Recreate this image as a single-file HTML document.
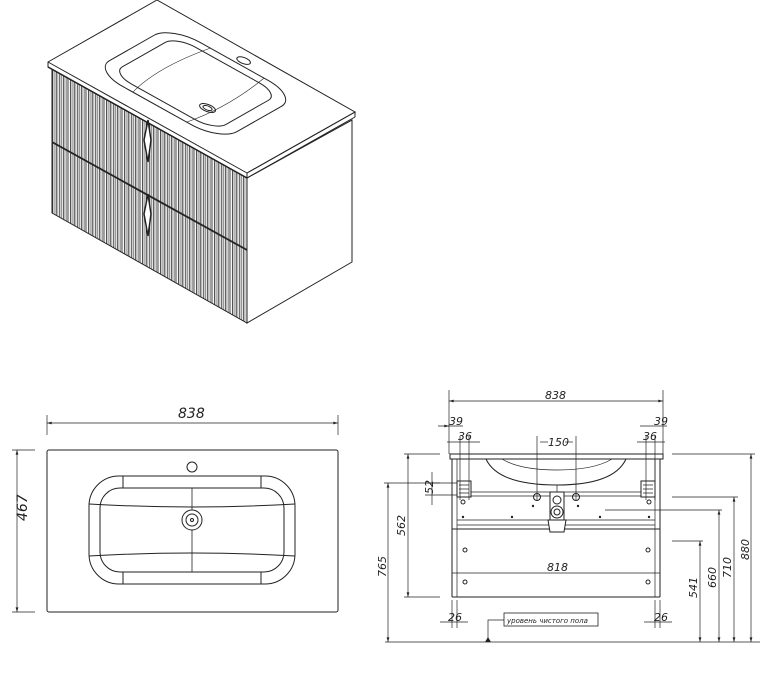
<!DOCTYPE html>
<html><head><meta charset="utf-8"><style>
html,body{margin:0;padding:0;background:#fff}
svg{display:block}
text{font-family:"DejaVu Sans","Liberation Sans",sans-serif;font-style:italic;fill:#222}
</style></head><body>
<svg width="760" height="686" viewBox="0 0 760 686" xmlns="http://www.w3.org/2000/svg">
<defs>
<pattern id="fl" x="52" y="0" width="3.6" height="10" patternUnits="userSpaceOnUse">
<line x1="0.6" y1="0" x2="0.6" y2="10" stroke="#222" stroke-width="0.9"/>
<line x1="2.2" y1="0" x2="2.2" y2="10" stroke="#555" stroke-width="0.6"/>
</pattern>
<marker id="ar" viewBox="0 0 10 6" refX="10" refY="3" markerWidth="8" markerHeight="4" orient="auto-start-reverse"><path d="M0,0L10,3L0,6z" fill="#222"/></marker>
</defs>
<g stroke="#222" fill="none" stroke-width="1">
<!-- ISO VIEW -->
<polygon points="52,68 247,178 247,323 52,213" fill="url(#fl)" stroke="#222"/>
<polygon points="247,178 352,120 352,262 247,323" fill="#fff"/>
<polygon points="48,62 157,0 355,112 247,173 247,178 48,67" fill="#fff"/>
<line x1="48" y1="62" x2="247" y2="173"/>
<line x1="247" y1="173" x2="355" y2="112"/>
<line x1="355" y1="112" x2="355" y2="117"/><line x1="355" y1="117" x2="247" y2="178"/>
<line x1="48" y1="67" x2="247" y2="178" stroke-width="1.5"/>
<line x1="52" y1="142" x2="247" y2="250" stroke-width="1.8"/>
<path d="M148,120 L144,140 L148,162 L151,140Z M148,194 L144,214 L148,236 L151,214Z" fill="#fff" stroke-width="1.5"/>
<g transform="matrix(109,-62,199,111,48,62)">
<rect x="0.14" y="0.15" width="0.71" height="0.64" rx="0.15" vector-effect="non-scaling-stroke"/>
<rect x="0.2" y="0.21" width="0.59" height="0.52" rx="0.1" vector-effect="non-scaling-stroke"/>
<path d="M0.14,0.35 Q0.45,0.3 0.85,0.35 M0.14,0.62 Q0.45,0.66 0.85,0.62" vector-effect="non-scaling-stroke" stroke-width="0.6"/>
<circle cx="0.35" cy="0.61" r="0.035" vector-effect="non-scaling-stroke"/>
<circle cx="0.35" cy="0.61" r="0.02" vector-effect="non-scaling-stroke"/>
<circle cx="0.9" cy="0.49" r="0.03" vector-effect="non-scaling-stroke"/>
</g>
<!-- TOP VIEW -->
<rect x="47" y="450" width="291" height="162" rx="2"/>
<rect x="89" y="476" width="206" height="108" rx="30"/>
<rect x="100" y="488" width="184" height="84" rx="20"/>
<line x1="123" y1="476" x2="123" y2="488"/><line x1="261" y1="476" x2="261" y2="488"/>
<line x1="123" y1="572" x2="123" y2="584"/><line x1="261" y1="572" x2="261" y2="584"/>
<path d="M89,504 Q192,510 295,504 M89,556 Q192,550 295,556"/>
<line x1="192" y1="488" x2="192" y2="572" stroke-width="0.8"/>
<circle cx="192" cy="520" r="10" fill="#fff"/><circle cx="192" cy="520" r="6"/><circle cx="192" cy="520" r="1.5"/>
<circle cx="192" cy="467" r="5"/>
<line x1="47" y1="415" x2="47" y2="435" stroke-width="0.7"/><line x1="338" y1="415" x2="338" y2="435" stroke-width="0.7"/>
<line x1="47" y1="423" x2="338" y2="423" stroke-width="0.7" marker-start="url(#ar)" marker-end="url(#ar)"/>
<line x1="12" y1="450" x2="35" y2="450" stroke-width="0.7"/><line x1="12" y1="612" x2="35" y2="612" stroke-width="0.7"/>
<line x1="17" y1="450" x2="17" y2="612" stroke-width="0.7" marker-start="url(#ar)" marker-end="url(#ar)"/>
<!-- FRONT VIEW -->
<rect x="450" y="454" width="213" height="5" fill="#fff"/>
<line x1="452" y1="459" x2="452" y2="597"/><line x1="660" y1="459" x2="660" y2="597"/>
<line x1="457" y1="459" x2="457" y2="597" stroke-width="0.7"/><line x1="655" y1="459" x2="655" y2="597" stroke-width="0.7"/>
<line x1="452" y1="597" x2="660" y2="597"/>
<line x1="452" y1="529" x2="660" y2="529"/><line x1="457" y1="525" x2="655" y2="525" stroke-width="0.7"/>
<line x1="452" y1="573" x2="660" y2="573" stroke-width="0.8"/>
<line x1="457" y1="492" x2="655" y2="492" stroke-width="0.8"/><line x1="457" y1="496" x2="655" y2="496" stroke-width="0.8"/>
<line x1="457" y1="520" x2="655" y2="520" stroke-width="0.8"/>
<path d="M486,459 Q498,485 557,485 Q614,485 626,459" />
<path d="M502,459 Q520,470 557,470 Q594,470 612,459" stroke-width="0.7"/>
<line x1="557" y1="485" x2="557" y2="492" stroke-width="0.7"/>
<rect x="550" y="492" width="14" height="28" fill="#fff"/>
<circle cx="557" cy="500" r="4"/><circle cx="557" cy="512" r="6"/><circle cx="557" cy="512" r="3"/>
<path d="M548,520 L566,520 L564,532 L550,532Z" fill="#fff"/>
<circle cx="537" cy="497" r="3.5"/><circle cx="576" cy="497" r="3.5"/>
<rect x="457" y="481" width="14" height="16" fill="#fff"/><rect x="641" y="481" width="14" height="16" fill="#fff"/>
<path d="M459,485h10M459,489h10M459,493h10M643,485h10M643,489h10M643,493h10" stroke-width="0.7"/>
<circle cx="463" cy="502" r="2"/><circle cx="649" cy="502" r="2"/>
<circle cx="465" cy="550" r="2"/><circle cx="648" cy="550" r="2"/>
<circle cx="465" cy="582" r="2"/><circle cx="648" cy="582" r="2"/>
<g fill="#222" stroke="none"><circle cx="512" cy="517" r="1.2"/><circle cx="600" cy="517" r="1.2"/><circle cx="533" cy="506" r="1.2"/><circle cx="578" cy="506" r="1.2"/><circle cx="463" cy="517" r="1.2"/><circle cx="649" cy="517" r="1.2"/></g>
<g stroke-width="0.7">
<line x1="449" y1="390" x2="449" y2="454"/><line x1="663" y1="390" x2="663" y2="454"/>
<line x1="449" y1="401" x2="663" y2="401" marker-start="url(#ar)" marker-end="url(#ar)"/>
<line x1="438" y1="426" x2="463" y2="426"/><line x1="445" y1="426" x2="449" y2="426" marker-end="url(#ar)"/>
<line x1="460" y1="436" x2="460" y2="500"/><line x1="469" y1="436" x2="469" y2="500"/>
<line x1="447" y1="442" x2="480" y2="442"/>
<line x1="640" y1="426" x2="667" y2="426"/><line x1="646" y1="436" x2="646" y2="500"/><line x1="655" y1="436" x2="655" y2="500"/>
<line x1="637" y1="442" x2="665" y2="442"/>
<line x1="537" y1="436" x2="537" y2="500"/><line x1="576" y1="436" x2="576" y2="500"/>
<line x1="540" y1="442" x2="548" y2="442"/><line x1="565" y1="442" x2="573" y2="442"/>
<line x1="432" y1="472" x2="432" y2="505"/><line x1="425" y1="483" x2="457" y2="483"/><line x1="425" y1="495" x2="457" y2="495"/>
<line x1="404" y1="454" x2="440" y2="454"/><line x1="404" y1="597" x2="440" y2="597"/><line x1="384" y1="483" x2="440" y2="483"/>
<line x1="408" y1="454" x2="408" y2="597" marker-start="url(#ar)" marker-end="url(#ar)"/>
<line x1="388" y1="483" x2="388" y2="642" marker-start="url(#ar)" marker-end="url(#ar)"/>
<line x1="385" y1="642" x2="760" y2="642"/>
<line x1="672" y1="454" x2="755" y2="454"/><line x1="751" y1="454" x2="751" y2="642" marker-start="url(#ar)" marker-end="url(#ar)"/>
<line x1="672" y1="497" x2="738" y2="497"/><line x1="734" y1="497" x2="734" y2="642" marker-start="url(#ar)" marker-end="url(#ar)"/>
<line x1="605" y1="510" x2="722" y2="510"/><line x1="719" y1="510" x2="719" y2="642" marker-start="url(#ar)" marker-end="url(#ar)"/>
<line x1="672" y1="541" x2="703" y2="541"/><line x1="700" y1="541" x2="700" y2="642" marker-start="url(#ar)" marker-end="url(#ar)"/>
<line x1="452" y1="600" x2="452" y2="628"/><line x1="457" y1="600" x2="457" y2="628"/><line x1="440" y1="622" x2="468" y2="622"/>
<line x1="655" y1="600" x2="655" y2="628"/><line x1="660" y1="600" x2="660" y2="628"/><line x1="644" y1="622" x2="672" y2="622"/>
<polyline points="488,642 488,620 504,620"/>
</g>
<rect x="504" y="613" width="94" height="13" stroke-width="0.8"/>
</g>
<path d="M485,642 L488,637 L491,642Z" fill="#222"/>
<g font-size="14"><text x="178" y="418">838</text></g>
<text x="22" y="546" font-size="14" transform="rotate(-90 12 531)">467</text>
<g font-size="11">
<text x="545" y="399">838</text>
<text x="449" y="425">39</text><text x="458" y="440">36</text>
<text x="654" y="425">39</text><text x="643" y="440">36</text>
<text x="548" y="446">150</text>
<text x="547" y="571">818</text>
<text x="448" y="621">26</text><text x="654" y="621">26</text>
<text transform="translate(433,494) rotate(-90)">52</text>
<text transform="translate(405,536) rotate(-90)">562</text>
<text transform="translate(386,577) rotate(-90)">765</text>
<text transform="translate(697,598) rotate(-90)">541</text>
<text transform="translate(716,588) rotate(-90)">660</text>
<text transform="translate(731,578) rotate(-90)">710</text>
<text transform="translate(749,560) rotate(-90)">880</text>
</g>
<text x="507" y="623" font-size="7">уровень чистого пола</text>
</svg>
</body></html>
